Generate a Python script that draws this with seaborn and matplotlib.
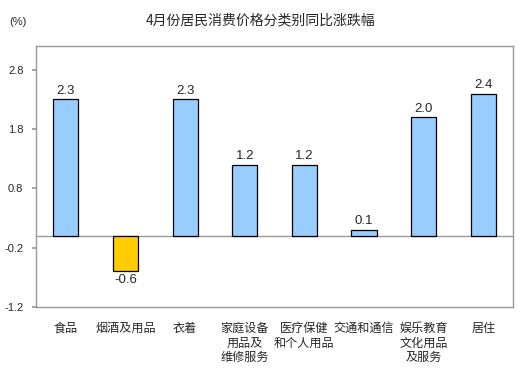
import pandas as pd
import numpy as np
import matplotlib.pyplot as plt
import seaborn as sns

# data
categories = ['食品', '烟酒及用品', '衣着', '家庭设备\n用品及\n维修服务', '医疗保健\n和个人用品',
              '交通和通信', '娱乐教育\n文化用品\n及服务', '居住']
values = [2.3, -0.6, 2.3, 1.2, 1.2, 0.1, 2.0, 2.4]
y_ticks = [2.8, 1.8, 0.8, -0.2, -1.2]

sns.set_theme(style='white')
plt.rcParams['font.family'] = ['Liberation Sans', 'Noto Sans CJK SC', 'DejaVu Sans']

df = pd.DataFrame({'类别': categories, '涨跌幅': values})
colors = ['#FFCC00' if v < 0 else '#99CCFF' for v in values]

fig = plt.figure(figsize=(5.29, 3.72), dpi=100)
ax = fig.add_axes([0.068, 0.175, 0.902, 0.701])

sns.barplot(data=df, x='类别', y='涨跌幅', hue='类别', palette=colors, legend=False,
            saturation=1, width=0.42, edgecolor='black', linewidth=0.9, ax=ax)

ax.set_ylim(-1.2, 3.2)
ax.set_xlim(-0.5, len(categories) - 0.5)
ax.set_yticks(y_ticks)
ax.set_yticklabels([f'{t:.1f}' for t in y_ticks], fontsize=8)
ax.axhline(0, color='#999999', lw=1, zorder=0.5)

for s in ax.spines.values():
    s.set_color('#999999')
    s.set_linewidth(1)

ax.tick_params(axis='y', left=True, length=3, color='#999999', pad=6)
ax.tick_params(axis='x', bottom=False, pad=5)
ax.set_xticks(range(len(categories)))
ax.set_xticklabels(categories, fontsize=8.7, family=['Noto Sans CJK SC'],
                   va='top', multialignment='center', linespacing=1.15)
ax.set_xlabel('')
ax.set_ylabel('')

# 数值标签
for i, v in enumerate(values):
    if v >= 0:
        ax.text(i, v + 0.04, f'{v:.1f}', ha='center', va='bottom', fontsize=9.5)
    else:
        ax.text(i, v - 0.04, f'{v:.1f}', ha='center', va='top', fontsize=9.5)

fig.text(0.493, 0.945, '4月份居民消费价格分类别同比涨跌幅', ha='center', va='center',
         fontsize=10, family=['Noto Sans CJK SC'])
fig.text(0.033, 0.94, '(%)', ha='center', va='center', fontsize=8)

plt.savefig('out.png', dpi=100)
